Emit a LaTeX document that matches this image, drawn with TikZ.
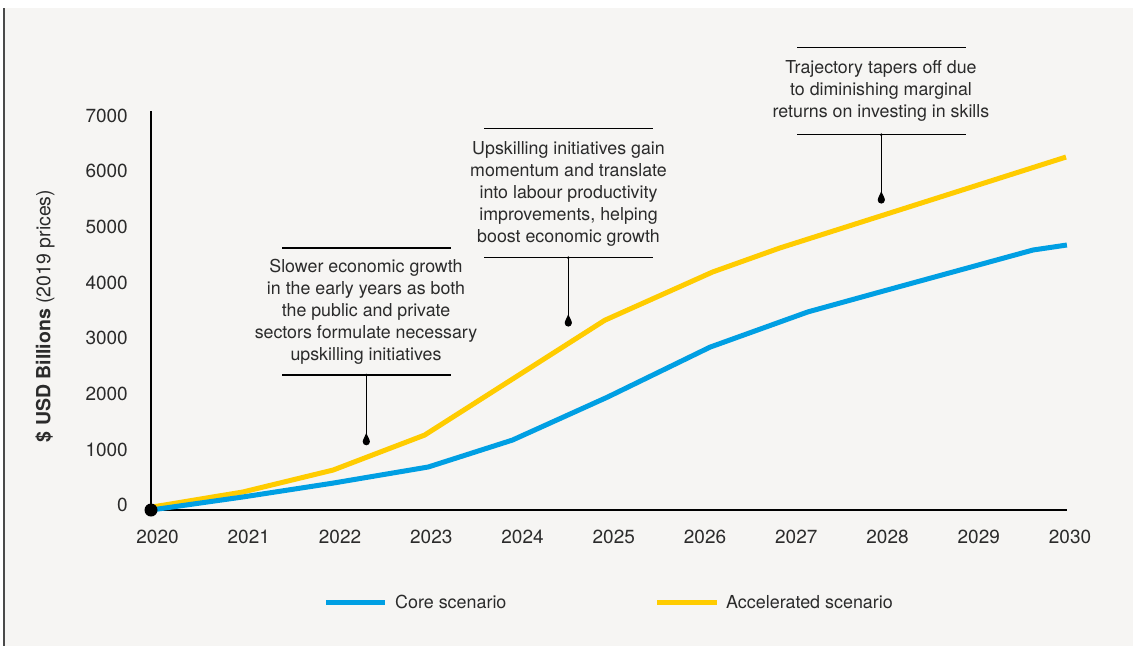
\documentclass[tikz,border=0pt]{standalone}
\usepackage{fontspec}
\setmainfont{TeX Gyre Heros}
\usepackage{tikz}
\usetikzlibrary{positioning}
\definecolor{paper}{HTML}{F6F5F3}
\definecolor{frameline}{HTML}{4A4A4A}
\definecolor{coreblue}{HTML}{009FE3}
\definecolor{accyellow}{HTML}{FFCC00}
\definecolor{inktext}{HTML}{2B2B2B}
\tikzstyle{note} = [align=center, inner sep=0pt, text=inktext, font=\fontsize{17.8}{22}\selectfont]
\tikzstyle{rule} = [line width=1.1pt]
\tikzstyle{pinline} = [line width=1pt]
\tikzstyle{tick} = [inner sep=0pt, text=inktext, font=\fontsize{19}{22}\selectfont]
\tikzstyle{legendtext} = [inner sep=0pt, anchor=west, text=inktext, font=\fontsize{17.9}{22}\selectfont]
\tikzstyle{series} = [line width=5pt, line join=round]
\tikzstyle{axis} = [line width=2.6pt]
\newcommand{\inkdrop}[1]{\fill ([xshift=-3.6pt]#1) arc[start angle=180, end angle=360, radius=3.6pt] .. controls +(0,2pt) and +(1pt,-3pt) .. ([yshift=9pt]#1) .. controls +(-1pt,-3pt) and +(0,2pt) .. ([xshift=-3.6pt]#1) -- cycle;}

\begin{document}
\begin{tikzpicture}[x=1pt, y=-1pt]
% frame
\fill[white] (0,0) rectangle (1135,646);
\fill[paper] (5.3,8) rectangle (1133,646);
\fill[frameline] (2.7,8) rectangle (5.3,646);
\useasboundingbox (0,0) rectangle (1135,646);

% axis labels
\node[tick, rotate=90, font=\fontsize{19.5}{22}\selectfont] (ylabel) at (45,316) {\textbf{\$ USD Billions} (2019 prices)};
\foreach \v [count=\i from 0] in {0,1000,...,7000}
  \node[tick, anchor=east] (val\i) at (128,505-55.6*\i) {\v};
\foreach \yr [count=\i from 0] in {2020,...,2030}
  \node[tick] (yr\yr) at (157.5+91.25*\i,537) {\yr};

% data
\begin{scope}[shift={(151,510)}, x=91.5pt, y=0.0555pt]
  \draw[axis] (0,7190) -- (0,0) -- (10.01,0);
  \draw[series, accyellow] (0,50) -- (1.005,325) -- (1.99,720) -- (2.99,1350) -- (4.96,3420) -- (6.14,4290) -- (6.87,4720) -- (10.0,6360);
  \draw[series, coreblue] (0,0) -- (1.005,235) -- (1.99,485) -- (3.03,775) -- (3.95,1260) -- (4.99,2035) -- (6.11,2935) -- (7.18,3570) -- (7.97,3930) -- (9.64,4685) -- (10.01,4775);
  \fill (0,0) circle (6.5pt);
\end{scope}

% notes
\node[note] (note1) at (366,312) {Slower economic growth\\in the early years as both\\the public and private\\sectors formulate necessary\\upskilling initiatives};
\draw[rule] (282,248) -- (451,248);
\draw[rule] (282,375) -- (451,375);
\coordinate (top1) at (366.3,375);
\coordinate (drop1) at (366.3,441.7);

\node[note] (note2) at (568.5,193.5) {Upskilling initiatives gain\\momentum and translate\\into labour productivity\\improvements, helping\\boost economic growth};
\draw[rule] (484,128.3) -- (653,128.3);
\draw[rule] (484,257.7) -- (653,257.7);
\coordinate (top2) at (568.3,257.7);
\coordinate (drop2) at (568.3,323);

\node[note] (note3) at (881,91) {Trajectory tapers off due\\to diminishing marginal\\returns on investing in skills};
\draw[rule] (797,47.7) -- (966,47.7);
\draw[rule] (797,134.7) -- (966,134.7);
\coordinate (top3) at (881.3,134.7);
\coordinate (drop3) at (881.3,200);

\foreach \n in {1,2,3} {
  \draw[pinline] (top\n) -- (drop\n);
  \fill (top\n) circle (1.4pt);
  \inkdrop{drop\n}
}

% legend
\draw[series, coreblue] (326,602) -- (385,602);
\node[legendtext] (corelabel) at (395,602) {Core scenario};
\draw[series, accyellow] (657,602) -- (717,602);
\node[legendtext] (acclabel) at (726,602) {Accelerated scenario};
\end{tikzpicture}
\end{document}
